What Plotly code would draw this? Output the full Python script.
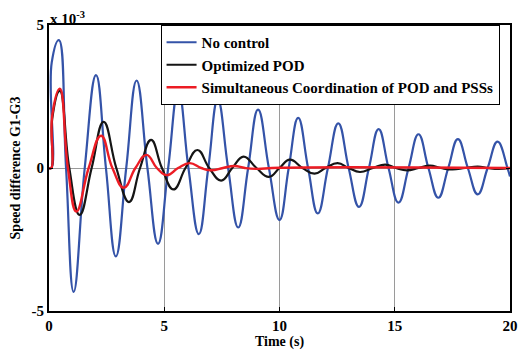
import plotly.graph_objects as go

# Values in units of 1e-3
t_blue = [0, 0.1, 0.12, 0.43, 0.74, 1.07, 1.55, 2.04, 2.47, 2.90, 3.35, 3.80, 4.27, 4.73, 5.17,
          5.61, 6.05, 6.50, 6.91, 7.32, 7.77, 8.21, 8.64, 9.07, 9.54, 10.0, 10.4, 10.81, 11.24,
          11.66, 12.1, 12.55, 13.0, 13.45, 13.88, 14.30, 14.73, 15.16, 15.6, 16.03, 16.46,
          16.89, 17.32, 17.74, 18.17, 18.6, 19.03, 19.46, 19.89, 20.0]
v_blue = [0, 0, 3.7, 4.47, 0, -4.33, 0, 3.25, 0, -3.09, 0, 3.06, 0, -2.65, 0,
          2.73, 0, -2.31, 0, 2.39, 0, -2.08, 0, 2.04, 0, -1.82, 0, 1.75, 0,
          -1.59, 0, 1.56, 0, -1.36, 0, 1.36, 0, -1.21, 0, 1.18, 0,
          -1.04, 0, 1.01, 0, -0.92, 0, 0.92, 0, -0.3]

t_black = [0, 0.1, 0.14, 0.47, 0.88, 1.33, 1.85, 2.37, 2.92, 3.47, 3.95, 4.43, 4.9, 5.40, 5.92,
           6.44, 6.95, 7.47, 7.95, 8.44, 9.0, 9.54, 10.0, 10.45, 11.0, 11.52, 12.0, 12.52, 13.0,
           13.49, 14.05, 14.59, 15.05, 15.53, 16.03, 16.53, 17.0, 17.5, 18.05, 18.6, 19.05, 19.5, 20.0]
v_black = [0, 0, 1.73, 2.7, 0, -1.64, 0, 1.61, 0, -1.19, 0, 0.98, 0, -0.75, 0,
           0.63, 0, -0.44, 0, 0.40, 0, -0.31, 0, 0.29, 0, -0.20, 0, 0.17, 0,
           -0.14, 0, 0.12, 0, -0.08, 0, 0.08, 0, -0.05, 0, 0.05, 0, -0.03, 0]

t_red = [0, 0.1, 0.14, 0.47, 0.82, 1.19, 1.72, 2.26, 2.75, 3.25, 3.75, 4.23, 4.68, 5.11, 5.6,
         6.11, 6.6, 7.04, 7.55, 8.04, 8.5, 9.0, 10.0, 20.0]
v_red = [0, 0, 1.84, 2.77, 0, -1.52, 0, 1.13, 0, -0.69, 0, 0.46, 0, -0.25, 0,
         0.17, 0, -0.08, 0, 0.07, 0, -0.03, 0.01, 0]

series_names = ["No control", "Optimized POD", "Simultaneous Coordination of POD and PSSs"]
x_ticks = [0, 5, 10, 15, 20]
y_ticks = [-5, 0, 5]

FONT = "Liberation Serif"

fig = go.Figure()
fig.add_trace(go.Scatter(x=t_blue, y=v_blue, mode="lines", name=series_names[0],
                         line=dict(color="#3453A8", width=2.2, shape="spline", smoothing=1.3)))
fig.add_trace(go.Scatter(x=t_black, y=v_black, mode="lines", name=series_names[1],
                         line=dict(color="#151515", width=2.2, shape="spline", smoothing=1.3)))
fig.add_trace(go.Scatter(x=t_red, y=v_red, mode="lines", name=series_names[2],
                         line=dict(color="#EC1C24", width=2.4, shape="spline", smoothing=1.3)))

fig.update_layout(
    width=530, height=358,
    margin=dict(l=49, r=14, t=25, b=44),
    paper_bgcolor="white", plot_bgcolor="white",
    font=dict(family=FONT, color="black", size=14),
    showlegend=True,
    legend=dict(x=0.242, y=1, xanchor="left", yanchor="top",
                bgcolor="white", bordercolor="black", borderwidth=1,
                font=dict(family=FONT, size=15, color="black", weight="bold"),
                itemwidth=30, tracegroupgap=0),
)
fig.update_xaxes(
    range=[0, 20], tickvals=x_ticks, ticktext=[f"<b>{v}</b>" for v in x_ticks],
    ticks="inside", ticklen=4, tickcolor="black",
    showline=True, linecolor="black", linewidth=2, mirror="ticks",
    showgrid=True, gridcolor="#9a9a9a", gridwidth=1, zeroline=False,
    tickfont=dict(size=15, family=FONT),
    title=dict(text="<b>Time (s)</b>", font=dict(size=14, family=FONT), standoff=2),
)
fig.update_yaxes(
    range=[-5, 5], tickvals=y_ticks, ticktext=[f"<b>{v}</b>" for v in y_ticks],
    ticks="inside", ticklen=4, tickcolor="black",
    showline=True, linecolor="black", linewidth=2, mirror="ticks",
    showgrid=True, gridcolor="#9a9a9a", gridwidth=1, zeroline=False,
    tickfont=dict(size=15, family=FONT),
    title=dict(text="<b>Speed difference G1-G3</b>", font=dict(size=14, family=FONT), standoff=8),
)
fig.add_annotation(x=0, y=1, xref="paper", yref="paper", xanchor="left", yanchor="bottom",
                   text="<b>x 10<sup>-3</sup></b>", showarrow=False,
                   font=dict(size=15, family=FONT), xshift=-1, yshift=-4)

fig.write_html("out.html")
